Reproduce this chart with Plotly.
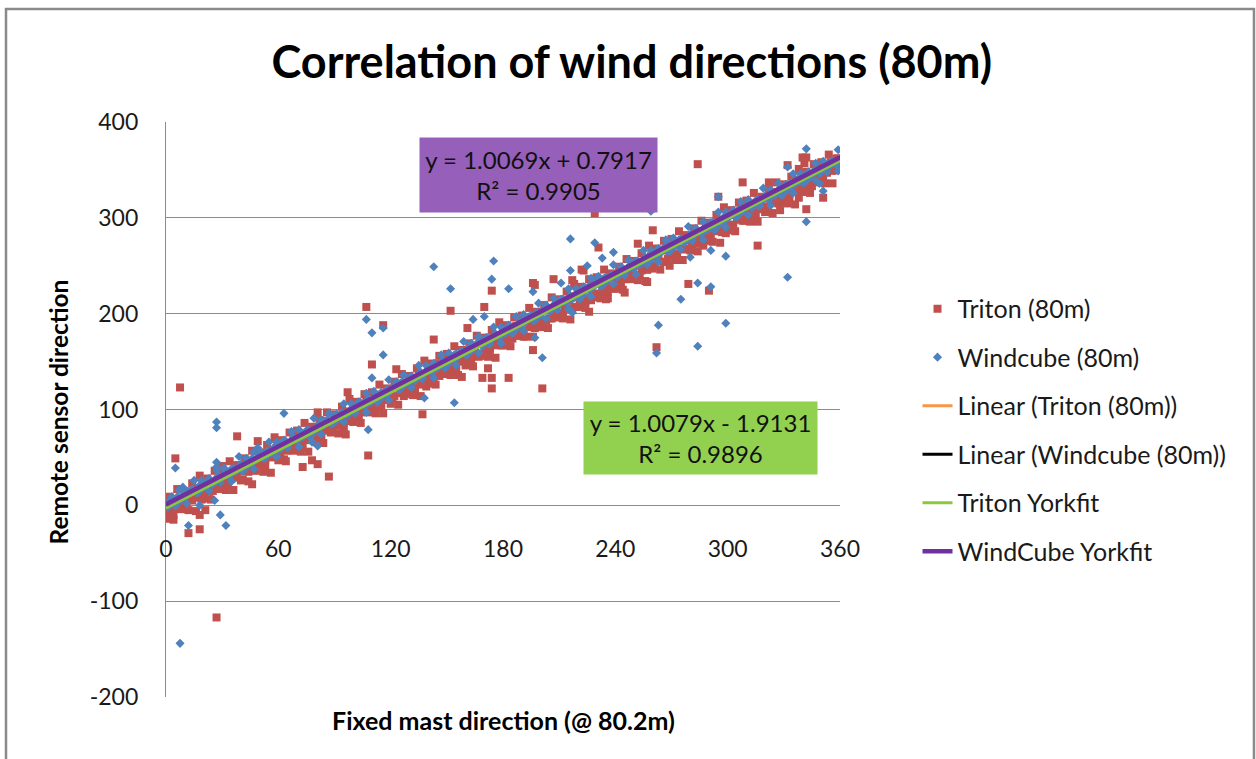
import plotly.graph_objects as go

# ---------------- data ----------------
triton_band_x = [1,3,5,7,9,11,13,15,17,19,21,23,25,27,29,31,33,35,37,39,
                 41,43,45,47,49,51,53,55,57,59,61,63,65,67,69,71,73,75,77,79,
                 81,83,85,87,89,91,93,95,97,99,101,103,105,107,109,111,113,115,117,119,
                 121,123,125,127,129,131,133,135,137,139,141,143,145,147,149,151,153,155,157,159,
                 161,163,165,167,169,171,173,175,177,179,181,183,185,187,189,191,193,195,197,199,
                 201,203,205,207,209,211,213,215,217,219,221,223,225,227,229,231,233,235,237,239,
                 241,243,245,247,249,251,253,255,257,259,261,263,265,267,269,271,273,275,277,279,
                 281,283,285,287,289,291,293,295,297,299,301,303,305,307,309,311,313,315,317,319,
                 321,323,325,327,329,331,333,335,337,339,341,343,345,347,349,351,353,355,357,359]
triton_band_y = [-3,2,-2,6,1,7,14,8,14,6,22,17,15,25,22,34,21,31,29,39,
                 27,38,44,38,43,55,42,52,50,60,51,48,63,59,71,67,61,69,77,70,
                 78,70,88,82,79,90,85,81,98,92,97,92,103,109,100,106,109,104,115,119,
                 112,127,119,114,128,124,120,136,133,124,139,134,148,139,137,151,145,140,153,162,
                 156,150,164,155,173,165,160,176,172,167,178,184,174,187,181,176,192,186,199,189,
                 193,204,195,200,211,199,207,214,204,218,209,215,226,214,221,232,220,229,238,226,
                 236,231,246,237,244,253,240,251,246,260,250,258,266,254,263,273,262,268,279,267,
                 275,284,273,282,290,279,287,298,285,292,303,291,299,310,297,304,314,303,312,321,
                 309,317,327,315,322,334,321,330,340,327,336,345,333,342,352,340,348,358,350,362]
triton_low_x = [2,5,8,11,14,17,20,23,26,29,32,35,38,41,44,47,50,53,56,59,
                62,65,68,71,74,77,80,83,86,89,92,95,98,101,104,107,110,113,116,119,
                122,125,128,131,134,137,140,143,146,149,152,155,158,161,164,167,170,173,176,179,
                182,185,188,191,194,197,200,203,206,209,212,215,218,221,224,227,230,233,236,239,
                242,245,248,251,254,257,260,263,266,269,272,275,278,281,284,287,290,293,296,299,
                302,305,308,311,314,317,320,323,326,329,332,335,338,341,344,347,350,353,356,359]
triton_low_y = [-6,1,-1,3,5,10,12,14,19,27,24,28,33,36,35,45,43,47,51,53,
                58,57,64,62,70,68,74,80,78,84,83,90,88,95,97,100,104,103,111,110,
                114,117,121,118,127,126,131,137,135,142,141,147,150,151,157,156,162,164,167,172,
                171,178,177,182,187,185,190,193,195,200,199,205,207,211,213,216,218,224,223,229,
                230,236,238,240,245,246,250,255,254,261,262,267,268,272,276,278,281,286,287,292,
                293,298,300,302,307,309,312,316,318,322,324,328,331,333,338,340,343,347,349,353]
triton_under_x = [0,4,8,12,16,20,24,28,32,36,40,44,48,52,56,60,64,68,72,76,
                  80,84,88,92,96,100,104,108,112,116,120,124,128,132,136,140,144,148,152,156,
                  160,164,168,172,176,180,184,188,192,196,200,204,208,212,216,220,224,228,232,236,
                  240,244,248,252,256,260,264,268,272,276,280,284,288,292,296,300,304,308,312,316,
                  320,324,328,332,336,340,344,348,352,356]
triton_under_y = [-14,-15,-4,-5,-6,7,6,17,16,16,26,25,36,35,34,47,46,57,56,56,
                  66,65,76,75,74,87,86,97,96,96,106,105,116,115,114,127,126,137,136,136,
                  146,145,156,155,154,167,166,177,176,176,186,185,196,195,194,207,206,217,216,216,
                  226,225,236,235,234,247,246,257,256,256,266,265,276,275,274,287,286,297,296,296,
                  306,305,316,315,314,327,326,337,336,336]
triton_over_x = [2,6,10,14,18,22,26,30,34,38,42,46,50,54,58,62,66,70,74,78,
                 82,86,90,94,98,102,106,110,114,118,122,126,130,134,138,142,146,150,154,158,
                 162,166,170,174,178,182,186,190,194,198,202,206,210,214,218,222,226,230,234,238,
                 242,246,250,254,258,262,266,270,274,278,282,286,290,294,298,302,306,310,314,318,
                 322,326,330,334,338,342,346,350,354,358]
triton_over_y = [9,17,15,23,31,28,36,38,46,42,49,57,55,63,71,68,76,78,86,82,
                 89,97,95,103,111,108,116,118,126,122,129,137,135,143,151,148,156,158,166,162,
                 169,177,175,183,191,188,196,198,206,202,209,217,215,223,231,228,236,238,246,242,
                 249,257,255,263,271,268,276,278,286,282,289,297,295,303,311,308,316,318,326,322,
                 329,337,335,343,351,348,356,358,366,362]
triton_out_x = [7.5,107,116,110,152,170,143,123,158,169,174,174,172,161,174,284,341,342,308,322,
                351,342,316,229,231,295,260,252,299,279,290,262,183,201,196,207,196,197,257,245,
                222,226,5,38,49,97,108,137,73,78,81,87,46,4,18,21,12,18,27,81,
                287,269,235,328,338,217,223,180,30,332,340]
triton_out_y = [123,207,188,147,203,207,173,142,134,133,133,122,143,185,224,356,357,363,337,337,
                321,309,271,305,269,322,287,273,284,231,224,165,133,122,162,236,232,230,233,222,
                246,202,49,72,67,118,52,95,40,47,43,30,22,-10,-10,-5,-29,-25,-117,97,
                271,250,215,308,321,235,245,167,41,355,363]

windcube_band_x = [0,2,4,6,8,10,12,14,16,18,20,22,24,26,28,30,32,34,36,38,
                   40,42,44,46,48,50,52,54,56,58,60,62,64,66,68,70,72,74,76,78,
                   80,82,84,86,88,90,92,94,96,98,100,102,104,106,108,110,112,114,116,118,
                   120,122,124,126,128,130,132,134,136,138,140,142,144,146,148,150,152,154,156,158,
                   160,162,164,166,168,170,172,174,176,178,180,182,184,186,188,190,192,194,196,198,
                   200,202,204,206,208,210,212,214,216,218,220,222,224,226,228,230,232,234,236,238,
                   240,242,244,246,248,250,252,254,256,258,260,262,264,266,268,270,272,274,276,278,
                   280,282,284,286,288,290,292,294,296,298,300,302,304,306,308,310,312,314,316,318,
                   320,322,324,326,328,330,332,334,336,338,340,342,344,346,348,350,352,354,356,358,360]
windcube_band_y = [2,5,3,9,8,14,12,17,15,21,19,25,24,27,31,30,35,33,39,37,
                   43,42,45,49,47,53,51,57,55,61,60,63,67,65,71,69,75,73,79,78,
                   81,85,83,89,87,93,91,97,96,99,103,101,107,105,111,109,115,114,117,121,
                   119,125,123,129,127,133,132,135,139,137,143,141,147,145,151,150,153,157,155,161,
                   159,165,163,169,168,171,175,173,179,177,183,181,187,186,189,193,191,197,195,201,
                   199,205,204,207,211,209,215,213,219,217,223,222,225,229,227,233,231,237,235,241,
                   240,243,247,245,251,249,255,253,259,258,261,265,263,269,267,273,271,277,276,279,
                   283,281,287,285,291,289,295,294,297,301,299,305,303,309,307,313,312,315,319,317,
                   323,321,327,325,331,330,333,337,335,341,339,345,343,349,348,351,355,353,359,357,362]
windcube_mid_x = [1,4,7,10,13,16,19,22,25,28,31,34,37,40,43,46,49,52,55,58,
                  61,64,67,70,73,76,79,82,85,88,91,94,97,100,103,106,109,112,115,118,
                  121,124,127,130,133,136,139,142,145,148,151,154,157,160,163,166,169,172,175,178,
                  181,184,187,190,193,196,199,202,205,208,211,214,217,220,223,226,229,232,235,238,
                  241,244,247,250,253,256,259,262,265,268,271,274,277,280,283,286,289,292,295,298,
                  301,304,307,310,313,316,319,322,325,328,331,334,337,340,343,346,349,352,355,358]
windcube_mid_y = [-2,5,4,8,14,13,17,23,22,26,32,31,35,41,40,44,50,49,53,59,
                  58,62,68,67,71,77,76,80,86,85,89,95,94,98,104,103,107,113,112,116,
                  122,121,125,131,130,134,140,139,143,149,148,152,158,157,161,167,166,170,176,175,
                  179,185,184,188,194,193,197,203,202,206,212,211,215,221,220,224,230,229,233,239,
                  238,242,248,247,251,257,256,260,266,265,269,275,274,278,284,283,287,293,292,296,
                  302,301,305,311,310,314,320,319,323,329,328,332,338,337,341,347,346,350,356,355]
windcube_over_x = [3,7,11,15,19,23,27,31,35,39,43,47,51,55,59,63,67,71,75,79,
                   83,87,91,95,99,103,107,111,115,119,123,127,131,135,139,143,147,151,155,159,
                   163,167,171,175,179,183,187,191,195,199,203,207,211,215,219,223,227,231,235,239,
                   243,247,251,255,259,263,267,271,275,279,283,287,291,295,299,303,307,311,315,319,
                   323,327,331,335,339,343,347,351,355,359]
windcube_over_y = [9,16,15,26,26,28,37,39,38,51,49,56,55,66,66,68,77,79,78,91,
                   89,96,95,106,106,108,117,119,118,131,129,136,135,146,146,148,157,159,158,171,
                   169,176,175,186,186,188,197,199,198,211,209,216,215,226,226,228,237,239,238,251,
                   249,256,255,266,266,268,277,279,278,291,289,296,295,306,306,308,317,319,318,331,
                   329,336,335,346,346,348,357,359,358,371]
windcube_under_x = [5,11,17,23,29,35,41,47,53,59,65,71,77,83,89,95,101,107,113,119,
                    125,131,137,143,149,155,161,167,173,179,185,191,197,203,209,215,221,227,233,239,
                    245,251,257,263,269,275,281,287,293,299,305,311,317,323,329,335,341,347,353,359]
windcube_under_y = [-1,2,13,15,24,25,35,38,49,51,60,61,71,74,85,87,96,97,107,110,
                    121,123,132,133,143,146,157,159,168,169,179,182,193,195,204,205,215,218,229,231,
                    240,241,251,254,265,267,276,277,287,290,301,303,312,313,323,326,337,339,348,349]
windcube_out_x = [143,152,175,174,107,110,116,116,154,164,110,342,332,351,342,332,259,216,229,295,
                  291,299,280,284,291,275,263,262,284,299,201,183,217,211,5,27,27,63,108,138,
                  81,78,27,27,26,18,12,29,32,7.5,233,239,216,225,196,197,170,49,9,349]
windcube_out_y = [249,226,255,236,194,180,185,157,107,194,133,372,353,328,296,238,307,278,274,322,
                  266,260,259,232,228,215,188,159,166,190,154,226,201,232,39,87,81,96,79,112,
                  62,66,45,40,5,0,-21,-10,-21,-144,258,264,245,250,223,175,197,60,19,336]

fit_x = [0, 360]
triton_linear = (1.0079, -1.9131)      # slope, intercept (from chart label)
windcube_linear = (1.0069, 0.7917)     # slope, intercept (from chart label)
triton_york = (1.0070, -2.9)
windcube_york = (1.0055, 1.0)

x_ticks = [0, 60, 120, 180, 240, 300, 360]
y_ticks = [-200, -100, 0, 100, 200, 300, 400]
y_tick_text = ["-200", "-100", "0", "100", "200", "300", "400"]

triton_x = triton_band_x + triton_low_x + triton_under_x + triton_over_x + triton_out_x
triton_y = triton_band_y + triton_low_y + triton_under_y + triton_over_y + triton_out_y
windcube_x = windcube_band_x + windcube_mid_x + windcube_over_x + windcube_under_x + windcube_out_x
windcube_y = windcube_band_y + windcube_mid_y + windcube_over_y + windcube_under_y + windcube_out_y


def line_y(coef):
    return [coef[0] * v + coef[1] for v in fit_x]

FONT = "Lato"
GRID = "#8C8C8C"
TXT = "#1A1A1A"

fig = go.Figure()
fig.add_trace(go.Scatter(x=triton_x, y=triton_y, mode="markers", name="Triton (80m)",
                         legendgroup="a",
                         marker=dict(symbol="square", size=8, color="#C0504D", line=dict(width=0))))
fig.add_trace(go.Scatter(x=windcube_x, y=windcube_y, mode="markers", name="Windcube (80m)",
                         legendgroup="b",
                         marker=dict(symbol="diamond", size=7, color="#4F81BD", line=dict(width=0))))
fig.add_trace(go.Scatter(x=fit_x, y=line_y(triton_linear), mode="lines", name="Linear (Triton (80m))",
                         legendgroup="c", line=dict(color="#F79646", width=3)))
fig.add_trace(go.Scatter(x=fit_x, y=line_y(windcube_linear), mode="lines", name="Linear (Windcube (80m))",
                         legendgroup="d", line=dict(color="#000000", width=3)))
fig.add_trace(go.Scatter(x=fit_x, y=line_y(triton_york), mode="lines", name="Triton Yorkfit",
                         legendgroup="e", line=dict(color="#8DC63F", width=3)))
fig.add_trace(go.Scatter(x=fit_x, y=line_y(windcube_york), mode="lines", name="WindCube Yorkfit",
                         legendgroup="f", line=dict(color="#7030A0", width=4.5)))

fig.update_layout(
    width=1256, height=759,
    margin=dict(l=166, r=416, t=122, b=62),
    paper_bgcolor="white", plot_bgcolor="white",
    font=dict(family=FONT, size=23, color=TXT),
    title=dict(text="<b>Correlation of wind directions (80m)</b>", x=0.503, xanchor="center",
               y=1 - 62 / 759, yanchor="middle", yref="container",
               font=dict(family=FONT, size=45, color="#000000")),
    showlegend=True,
    legend=dict(x=1.115, xanchor="left", y=0.715, yanchor="top",
                traceorder="grouped", tracegroupgap=13,
                font=dict(family=FONT, size=25, color=TXT),
                bgcolor="rgba(0,0,0,0)"),
    xaxis=dict(range=[0, 360], tickvals=x_ticks, showgrid=False, zeroline=False,
               showline=False, anchor="free", position=1 / 3, ticks="",
               ticklabelstandoff=28, tickfont=dict(family=FONT, size=23, color=TXT)),
    yaxis=dict(range=[-200, 400], tickvals=y_ticks, ticktext=y_tick_text,
               showgrid=True, gridcolor=GRID, gridwidth=1.3,
               zeroline=False, showline=True, linecolor=GRID, linewidth=1.3, ticks="",
               ticklabelstandoff=22, tickfont=dict(family=FONT, size=23, color=TXT)),
    annotations=[
        dict(text="y = 1.0069x + 0.7917<br>R² = 0.9905", x=198.7, y=345, xref="x", yref="y",
             xanchor="center", yanchor="middle", showarrow=False, align="center",
             bgcolor="#965FB9", width=229, height=66, borderpad=4,
             font=dict(family=FONT, size=24, color="#111111")),
        dict(text="y = 1.0079x - 1.9131<br>R² = 0.9896", x=285.3, y=70, xref="x", yref="y",
             xanchor="center", yanchor="middle", showarrow=False, align="center",
             bgcolor="#92D050", width=225, height=64, borderpad=4,
             font=dict(family=FONT, size=24, color="#111111")),
        dict(text="<b>Fixed mast direction (@ 80.2m)</b>", x=0.5, y=-0.04, xref="paper", yref="paper",
             xanchor="center", yanchor="middle", showarrow=False,
             font=dict(family=FONT, size=25, color="#000000")),
        dict(text="<b>Remote sensor direction</b>", x=-0.16, y=0.495, xref="paper", yref="paper",
             xanchor="center", yanchor="middle", showarrow=False, textangle=-90,
             font=dict(family=FONT, size=24.5, color="#000000")),
    ],
    shapes=[
        dict(type="rect", xref="paper", yref="paper", x0=-0.2374, x1=1.6142, y0=-0.2, y1=1.1965,
             line=dict(color="#8A8A8A", width=2.5), fillcolor="rgba(0,0,0,0)", layer="below"),
    ],
)

fig.write_html("out.html")
